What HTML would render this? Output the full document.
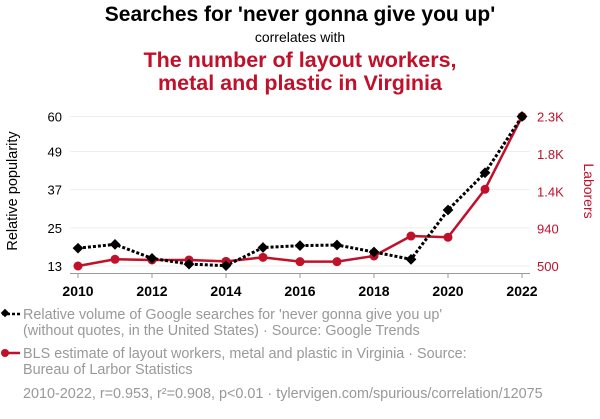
<!DOCTYPE html>
<html><head><meta charset="utf-8"><style>
body{margin:0;background:#fff;width:600px;height:414px;overflow:hidden;font-family:"Liberation Sans",Arial,sans-serif}
</style></head><body>
<svg id="chart" width="600" height="414" xmlns="http://www.w3.org/2000/svg" font-family="Liberation Sans, Arial, sans-serif">
<text x="300" y="21" text-anchor="middle" font-size="21" font-weight="bold" fill="#000">Searches for 'never gonna give you up'</text>
<text x="300" y="42" text-anchor="middle" font-size="14" fill="#000">correlates with</text>
<text x="300" y="67" text-anchor="middle" font-size="21.5" font-weight="bold" fill="#c0102a">The number of layout workers,</text>
<text x="300" y="90" text-anchor="middle" font-size="21.5" font-weight="bold" fill="#c0102a">metal and plastic in Virginia</text>
<g id="grid"></g><g id="axes"></g><g id="marks"></g>
<text transform="translate(17,191) rotate(-90)" text-anchor="middle" font-size="14.5" fill="#000">Relative popularity</text>
<text transform="translate(584,191) rotate(90)" text-anchor="middle" font-size="14" fill="#c0102a">Laborers</text>
<g>
<line x1="2" y1="314" x2="20" y2="314" stroke="#000" stroke-width="2.5" stroke-dasharray="3,2"/>
<rect x="2" y="310" width="6" height="6" transform="rotate(45 5 313)" fill="#000"/>
<text x="23" y="319" font-size="14.4" fill="#999">Relative volume of Google searches for 'never gonna give you up'</text>
<text x="23" y="335" font-size="14.4" fill="#999">(without quotes, in the United States) · Source: Google Trends</text>
</g>
<g>
<line x1="2" y1="353" x2="20" y2="353" stroke="#c0102a" stroke-width="2.5"/>
<circle cx="5" cy="353" r="4" fill="#c0102a"/>
<text x="23" y="358" font-size="14.4" fill="#999">BLS estimate of layout workers, metal and plastic in Virginia · Source:</text>
<text x="23" y="374" font-size="14.4" fill="#999">Bureau of Larbor Statistics</text>
</g>
<text x="23" y="398" font-size="14.4" fill="#999">2010-2022, r=0.953, r²=0.908, p&lt;0.01 · tylervigen.com/spurious/correlation/12075</text>
</svg>
<script>
const years=[2010,2011,2012,2013,2014,2015,2016,2017,2018,2019,2020,2021,2022];
const searches=[18.6,19.8,15.4,13.6,13.1,18.8,19.4,19.6,17.4,15.1,30.6,42.3,60];
const laborers=[500,579,571,571,555,602,551,551,618,853,838,1403,2260];
const leftTicks=[13,25,37,49,60];
const rightTicks=[500,940,1380,1820,2260];
const rightTickLabels=["500","940","1.4K","1.8K","2.3K"];
const xTicks=[2010,2012,2014,2016,2018,2020,2022];
const NS="http://www.w3.org/2000/svg";
const x=v=>78+(v-2010)*(522-78)/12;
const yL=v=>266-(v-13)*(266-116.5)/(60-13);
const yR=v=>266-(v-500)*(266-116.5)/(2260-500);
function mk(tag,attrs,parent){const e=document.createElementNS(NS,tag);for(const k in attrs)e.setAttribute(k,attrs[k]);parent.appendChild(e);return e;}
const grid=document.getElementById('grid'),axes=document.getElementById('axes'),marks=document.getElementById('marks');
leftTicks.forEach((t,i)=>{
 const g=mk('line',{x1:70,x2:530,y1:yL(t),y2:yL(t),stroke:'#eee','stroke-width':1},grid);
 
 
 const l=mk('text',{x:62,y:yL(t)+5,'text-anchor':'end','font-size':13,fill:'#000'},axes);l.textContent=t;
 
 
});
rightTicks.forEach((t,i)=>{
 const l=mk('text',{x:537,y:yR(t)+5,'font-size':13,fill:'#c0102a'},axes);l.textContent=rightTickLabels[i];
 
 
});
const ax=mk('line',{x1:70,x2:530,y1:273.5,y2:273.5,stroke:'#999','stroke-width':1},axes);


xTicks.forEach(t=>{
 mk('line',{x1:x(t),x2:x(t),y1:273.5,y2:278,stroke:'#999'},axes);
 const l=mk('text',{x:x(t),y:296,'text-anchor':'middle','font-size':14,'font-weight':'bold',fill:'#000'},axes);l.textContent=t;
 
 
});
const rp=mk('polyline',{points:years.map((y,i)=>x(y)+','+yR(laborers[i])).join(' '),fill:'none',stroke:'#c0102a','stroke-width':2.5},marks);


const bp=mk('polyline',{points:years.map((y,i)=>x(y)+','+yL(searches[i])).join(' '),fill:'none',stroke:'#000','stroke-width':3,'stroke-dasharray':'3,2'},marks);


years.forEach((y,i)=>{
 const c=mk('circle',{cx:x(y),cy:yR(laborers[i]),r:4.5,fill:'#c0102a'},marks);
 
 
});
years.forEach((y,i)=>{
 const cx=x(y),cy=yL(searches[i]);
 const d=mk('rect',{x:cx-3.8,y:cy-3.8,width:7.6,height:7.6,transform:`rotate(45 ${cx} ${cy})`,fill:'#000'},marks);
 
 
});
</script>
</body></html>
